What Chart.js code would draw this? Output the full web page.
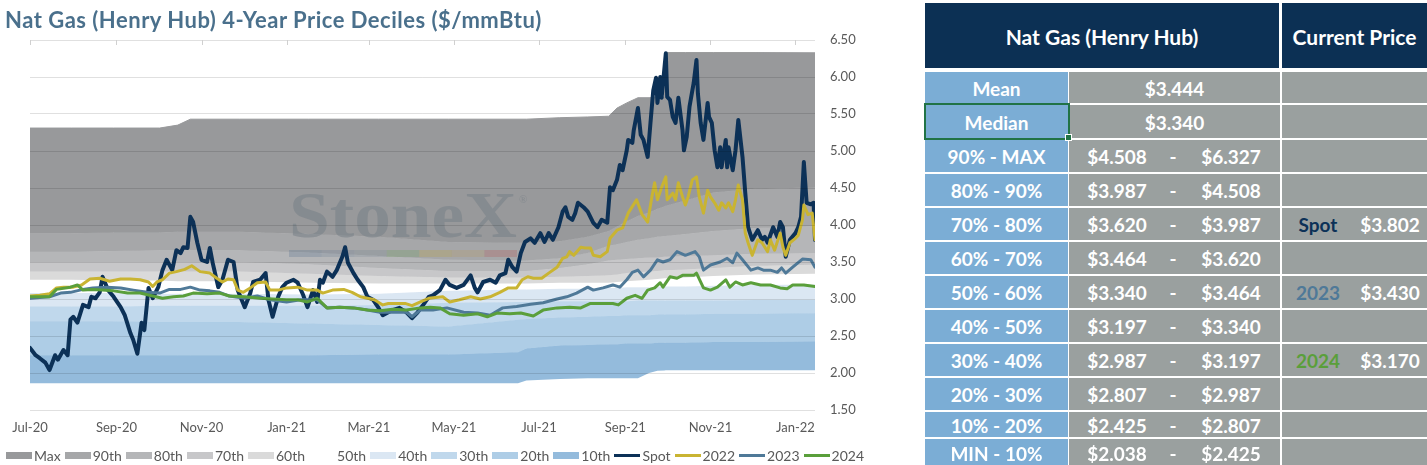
<!DOCTYPE html>
<html>
<head>
<meta charset="utf-8">
<title>Nat Gas (Henry Hub) 4-Year Price Deciles</title>
<script src="https://cdn.jsdelivr.net/npm/chart.js@4.4.1/dist/chart.umd.min.js"></script>
<style>
  html, body { margin: 0; padding: 0; background: #fff; }
  body { position: relative; width: 1427px; height: 465px; overflow: hidden; font-family: Lato, "Open Sans", sans-serif; }
  #chartWrap { position: absolute; left: 0; top: 0; width: 920px; height: 465px; }
  #chartTitle { position: absolute; left: 5px; top: 6px; font-weight: bold; font-size: 22px; letter-spacing: 0.5px; color: #4a708c; white-space: nowrap; }
  #legend { position: absolute; left: 6px; top: 446px; height: 18px; display: flex; align-items: center; font-size: 14px; color: #595959; white-space: nowrap; }
  .item { display: flex; align-items: center; margin-right: 4px; }
  .swatch { width: 26px; margin-right: 2px; }
  .box { position: absolute; box-sizing: border-box; }
  .txt { position: absolute; transform: translate(-50%, -50%); white-space: nowrap; font-weight: bold; color: #fff; line-height: 1; }
</style>
</head>
<body>
<div id="chartWrap"><canvas id="decileChart"></canvas></div>
<div id="chartTitle">Nat Gas (Henry Hub) 4-Year Price Deciles ($/mmBtu)</div>
<div id="legend"></div>
<div id="table"></div>
<script>
// x axis: days since 1 Jul 2020
const xTickDays = [0, 62, 123, 184, 243, 304, 365, 427, 488, 549];
const xTickLabels = ['Jul-20', 'Sep-20', 'Nov-20', 'Jan-21', 'Mar-21', 'May-21', 'Jul-21', 'Sep-21', 'Nov-21', 'Jan-22'];
const lastDay = 563;

// rolling 4-year decile boundaries ($/mmBtu)
const bandDays = [0, 30, 60, 93, 106, 115, 150, 200, 250, 300, 350, 356, 380, 400, 415, 421, 428, 436, 444, 450, 455, 456, 470, 490, 520, 563];
const bandMax = [5.31, 5.31, 5.31, 5.31, 5.35, 5.43, 5.43, 5.43, 5.43, 5.43, 5.43, 5.43, 5.45, 5.46, 5.47, 5.58, 5.65, 5.72, 5.72, 5.73, 5.73, 6.33, 6.33, 6.33, 6.33, 6.327];
const band90 = [3.89, 3.89, 3.90, 3.90, 3.91, 3.91, 3.91, 3.88, 3.84, 3.77, 3.76, 3.76, 3.78, 3.84, 3.92, 3.98, 4.05, 4.12, 4.17, 4.22, 4.25, 4.26, 4.33, 4.44, 4.49, 4.508];
const band80 = [3.64, 3.64, 3.65, 3.66, 3.66, 3.66, 3.66, 3.63, 3.58, 3.53, 3.52, 3.52, 3.55, 3.62, 3.72, 3.74, 3.77, 3.80, 3.82, 3.84, 3.85, 3.85, 3.88, 3.92, 3.96, 3.987];
const band70 = [3.50, 3.50, 3.50, 3.50, 3.50, 3.50, 3.50, 3.47, 3.42, 3.38, 3.38, 3.38, 3.42, 3.47, 3.52, 3.53, 3.54, 3.55, 3.56, 3.56, 3.57, 3.57, 3.58, 3.59, 3.61, 3.620];
const band60 = [3.37, 3.37, 3.37, 3.37, 3.37, 3.37, 3.37, 3.34, 3.31, 3.29, 3.29, 3.29, 3.30, 3.31, 3.32, 3.33, 3.35, 3.36, 3.37, 3.38, 3.39, 3.39, 3.40, 3.42, 3.45, 3.464];
const band50 = [3.26, 3.26, 3.25, 3.25, 3.24, 3.24, 3.24, 3.22, 3.21, 3.21, 3.21, 3.21, 3.22, 3.22, 3.22, 3.23, 3.24, 3.25, 3.26, 3.27, 3.28, 3.28, 3.29, 3.31, 3.33, 3.340];
const band40 = [3.08, 3.08, 3.08, 3.07, 3.07, 3.07, 3.07, 3.06, 3.07, 3.11, 3.13, 3.13, 3.14, 3.14, 3.15, 3.15, 3.16, 3.16, 3.16, 3.17, 3.17, 3.17, 3.17, 3.18, 3.19, 3.197];
const band30 = [2.90, 2.90, 2.90, 2.91, 2.91, 2.91, 2.91, 2.91, 2.92, 2.95, 2.96, 2.96, 2.97, 2.97, 2.97, 2.97, 2.97, 2.98, 2.98, 2.98, 2.98, 2.98, 2.98, 2.98, 2.985, 2.987];
const band20 = [2.70, 2.70, 2.70, 2.69, 2.69, 2.69, 2.69, 2.67, 2.65, 2.63, 2.72, 2.73, 2.75, 2.76, 2.77, 2.77, 2.78, 2.78, 2.78, 2.79, 2.79, 2.79, 2.79, 2.80, 2.80, 2.807];
const band10 = [2.24, 2.24, 2.24, 2.24, 2.24, 2.24, 2.24, 2.24, 2.25, 2.25, 2.28, 2.33, 2.37, 2.38, 2.39, 2.39, 2.40, 2.40, 2.40, 2.41, 2.41, 2.41, 2.41, 2.42, 2.42, 2.425];
const bandMin = [1.86, 1.86, 1.86, 1.86, 1.86, 1.86, 1.86, 1.86, 1.86, 1.86, 1.86, 1.90, 1.92, 1.93, 1.93, 1.93, 1.93, 1.93, 2.00, 2.03, 2.035, 2.038, 2.038, 2.038, 2.038, 2.038];
const bandNames = ['Max', '90th', '80th', '70th', '60th', '50th', '40th', '30th', '20th', '10th'];
const bandColors = ['#98999b', '#a6a7a9', '#b5b6b8', '#c7c7c9', '#dadada', '#ffffff', '#dbe7f3', '#c0d8ec', '#aecde6', '#94bbdc'];

// spot and strip prices
const spotDays = [0, 4, 7, 11, 14, 18, 20, 24, 27, 29, 31, 34, 38, 42, 44, 47, 50, 52, 56, 60, 65, 68, 72, 74, 77, 80, 82, 85, 88, 92, 95, 98, 102, 105, 108, 110, 113, 115, 117, 120, 123, 127, 129, 131, 135, 138, 142, 146, 149, 154, 158, 160, 165, 169, 171, 174, 178, 181, 184, 189, 192, 196, 199, 203, 206, 208, 210, 213, 217, 220, 224, 226, 228, 232, 235, 239, 242, 246, 250, 253, 257, 260, 265, 270, 274, 278, 282, 286, 289, 294, 298, 301, 306, 311, 316, 319, 321, 325, 330, 334, 337, 341, 343, 346, 349, 352, 355, 359, 362, 366, 369, 372, 375, 379, 382, 384, 386, 389, 391, 393, 397, 400, 404, 407, 410, 414, 416, 418, 421, 423, 425, 428, 429, 432, 433, 436, 438, 440, 443, 445, 447, 449, 450, 452, 453, 456, 457, 459, 461, 463, 465, 468, 469, 471, 473, 476, 478, 479, 481, 483, 486, 487, 489, 491, 493, 495, 496, 499, 500, 501, 504, 506, 508, 511, 513, 515, 518, 522, 525, 527, 529, 533, 536, 538, 540, 542, 545, 549, 551, 553, 555, 557, 560, 562, 563];
const spotPrices = [2.34, 2.24, 2.20, 2.14, 2.04, 2.24, 2.18, 2.31, 2.24, 2.72, 2.76, 2.68, 2.92, 2.89, 3.03, 3.01, 3.09, 3.30, 3.12, 3.03, 2.89, 2.78, 2.54, 2.45, 2.26, 2.68, 2.58, 3.15, 3.01, 3.16, 3.39, 3.53, 3.39, 3.66, 3.62, 3.70, 3.69, 4.11, 4.04, 3.76, 3.53, 3.50, 3.69, 3.49, 3.16, 3.26, 3.53, 3.50, 3.12, 2.89, 3.08, 3.23, 3.26, 3.35, 2.99, 2.76, 3.03, 3.16, 3.22, 3.26, 3.22, 3.05, 2.89, 3.12, 2.96, 3.26, 3.22, 3.37, 3.30, 3.39, 3.57, 3.70, 3.49, 3.35, 3.26, 3.16, 3.03, 2.99, 2.88, 2.78, 2.82, 2.85, 2.88, 2.82, 2.74, 2.82, 2.92, 3.03, 3.05, 3.12, 3.26, 3.19, 3.15, 3.19, 3.32, 3.15, 3.09, 3.23, 3.26, 3.22, 3.32, 3.35, 3.53, 3.43, 3.37, 3.62, 3.77, 3.82, 3.76, 3.89, 3.77, 3.89, 3.80, 3.97, 4.18, 4.24, 4.11, 4.07, 4.16, 4.30, 4.24, 4.18, 4.03, 3.97, 4.07, 4.03, 4.51, 4.47, 4.61, 4.81, 4.74, 5.01, 5.15, 5.11, 5.28, 5.58, 5.22, 5.15, 4.92, 5.38, 5.82, 5.99, 5.65, 6.00, 5.72, 6.32, 5.73, 5.69, 5.46, 5.38, 5.72, 5.28, 5.01, 5.19, 5.60, 5.92, 6.23, 5.78, 5.38, 5.15, 5.65, 5.46, 5.38, 5.01, 4.78, 5.05, 4.78, 5.15, 4.78, 5.05, 4.74, 5.01, 5.42, 4.92, 4.43, 3.97, 3.80, 3.93, 3.80, 3.84, 3.76, 3.97, 3.84, 4.04, 3.97, 3.57, 3.80, 3.89, 3.97, 4.11, 4.85, 4.30, 4.28, 4.30, 3.80];

const strip2022Days = [0, 7, 14, 19, 24, 31, 37, 43, 50, 57, 65, 72, 79, 85, 88, 91, 95, 100, 105, 111, 116, 122, 129, 134, 138, 142, 146, 149, 153, 158, 163, 169, 172, 178, 184, 192, 199, 206, 210, 217, 225, 231, 237, 242, 247, 253, 257, 263, 269, 274, 280, 286, 296, 301, 308, 316, 323, 330, 337, 343, 349, 353, 357, 361, 367, 372, 378, 382, 385, 387, 390, 395, 398, 402, 404, 409, 414, 416, 421, 425, 429, 435, 439, 443, 446, 448, 450, 453, 456, 457, 461, 463, 465, 468, 470, 472, 475, 478, 480, 483, 486, 488, 491, 494, 496, 499, 501, 504, 506, 508, 511, 513, 515, 518, 522, 525, 529, 531, 534, 538, 540, 542, 545, 549, 551, 554, 555, 558, 561, 563];
const strip2022Prices = [3.04, 3.05, 3.07, 3.15, 3.16, 3.16, 3.19, 3.27, 3.28, 3.24, 3.27, 3.27, 3.26, 3.23, 3.17, 3.23, 3.26, 3.35, 3.37, 3.40, 3.45, 3.37, 3.35, 3.28, 3.23, 3.27, 3.26, 3.12, 3.09, 3.15, 3.22, 3.23, 3.12, 3.12, 3.15, 3.16, 3.12, 3.12, 3.08, 3.12, 3.13, 3.09, 3.03, 3.01, 2.99, 2.92, 2.94, 2.94, 2.94, 2.91, 2.96, 3.01, 3.03, 2.96, 2.99, 3.03, 3.00, 3.03, 3.09, 3.15, 3.15, 3.26, 3.30, 3.28, 3.28, 3.35, 3.43, 3.55, 3.57, 3.64, 3.59, 3.70, 3.69, 3.69, 3.59, 3.57, 3.64, 3.82, 3.93, 3.96, 4.16, 4.34, 4.14, 4.04, 4.38, 4.57, 4.34, 4.51, 4.65, 4.34, 4.43, 4.34, 4.57, 4.38, 4.27, 4.38, 4.61, 4.65, 4.38, 4.16, 4.47, 4.38, 4.30, 4.20, 4.30, 4.23, 4.30, 4.18, 4.34, 4.54, 4.34, 3.89, 3.76, 3.59, 3.80, 3.76, 3.64, 3.80, 3.66, 3.89, 3.70, 3.59, 3.76, 3.82, 3.86, 4.07, 4.27, 4.14, 4.16, 3.80];

const strip2023Days = [0, 14, 22, 29, 38, 45, 55, 65, 74, 84, 93, 100, 108, 115, 122, 129, 136, 143, 154, 163, 172, 184, 194, 206, 213, 222, 232, 242, 251, 260, 270, 274, 280, 289, 299, 311, 321, 330, 339, 349, 359, 368, 378, 385, 392, 400, 404, 411, 418, 423, 428, 432, 436, 440, 445, 450, 454, 459, 464, 470, 477, 480, 483, 488, 495, 500, 504, 507, 511, 517, 522, 526, 531, 536, 539, 542, 547, 554, 560, 563];
const strip2023Prices = [3.01, 3.03, 3.08, 3.09, 3.13, 3.15, 3.16, 3.15, 3.12, 3.09, 3.08, 3.13, 3.13, 3.16, 3.12, 3.11, 3.09, 3.04, 3.01, 3.04, 2.99, 2.96, 2.99, 2.99, 2.88, 2.89, 2.88, 2.85, 2.82, 2.82, 2.82, 2.76, 2.85, 2.85, 2.88, 2.82, 2.81, 2.78, 2.88, 2.90, 2.93, 2.95, 3.00, 3.03, 3.08, 3.16, 3.12, 3.15, 3.19, 3.16, 3.26, 3.36, 3.39, 3.30, 3.39, 3.53, 3.50, 3.53, 3.64, 3.59, 3.64, 3.57, 3.39, 3.46, 3.50, 3.55, 3.49, 3.62, 3.53, 3.39, 3.42, 3.39, 3.39, 3.36, 3.42, 3.35, 3.43, 3.54, 3.53, 3.43];

const strip2024Days = [0, 14, 19, 29, 34, 38, 45, 52, 60, 70, 79, 88, 95, 103, 110, 117, 127, 136, 143, 154, 165, 174, 184, 192, 199, 206, 213, 222, 232, 242, 251, 260, 270, 280, 287, 294, 301, 311, 321, 328, 335, 344, 352, 361, 368, 378, 387, 395, 402, 411, 418, 422, 428, 434, 439, 443, 448, 452, 454, 459, 464, 468, 476, 478, 483, 488, 493, 499, 502, 506, 511, 517, 524, 531, 538, 543, 547, 555, 563];
const strip2024Prices = [3.03, 3.03, 3.13, 3.16, 3.19, 3.12, 3.13, 3.12, 3.11, 3.08, 3.08, 3.04, 3.01, 3.03, 3.04, 3.08, 3.07, 3.08, 3.04, 3.03, 3.01, 3.00, 2.99, 2.99, 2.96, 3.01, 2.88, 2.89, 2.88, 2.85, 2.84, 2.86, 2.85, 2.88, 2.89, 2.88, 2.80, 2.78, 2.80, 2.76, 2.81, 2.80, 2.81, 2.77, 2.85, 2.88, 2.89, 2.88, 2.94, 2.94, 2.94, 2.92, 3.01, 3.05, 3.01, 3.12, 3.15, 3.22, 3.16, 3.30, 3.28, 3.32, 3.32, 3.35, 3.15, 3.12, 3.16, 3.26, 3.16, 3.23, 3.19, 3.22, 3.19, 3.19, 3.15, 3.14, 3.19, 3.19, 3.17];

const lineNames = ['Spot', '2022', '2023', '2024'];
const lineColors = ['#0c3157', '#c9b432', '#4f7998', '#5a9f3b'];

// summary table
const statNames = ['Mean', 'Median'];
const statValues = [3.444, 3.340];
const decileNames = ['90% - MAX', '80% - 90%', '70% - 80%', '60% - 70%', '50% - 60%', '40% - 50%', '30% - 40%', '20% - 30%', '10% - 20%', 'MIN - 10%'];
const decileLow = [4.508, 3.987, 3.620, 3.464, 3.340, 3.197, 2.987, 2.807, 2.425, 2.038];
const decileHigh = [6.327, 4.508, 3.987, 3.620, 3.464, 3.340, 3.197, 2.987, 2.807, 2.425];
const currentNames = ['Spot', '2023', '2024'];
const currentPrices = [3.802, 3.430, 3.170];
const currentColors = ['#0c3157', '#4f7998', '#5a9f3b'];

const tickColor = '#595959';
const tickFont = { family: 'Lato', size: 13 };

function toPoints(days, values) {
    return days.map((d, i) => ({ x: d, y: values[i] }));
}

function buildDatasets() {
    const bands = [bandMax, band90, band80, band70, band60, band50, band40, band30, band20, band10];
    const sets = bands.map((values, i) => ({
        label: bandNames[i],
        data: toPoints(bandDays, values),
        backgroundColor: bandColors[i],
        borderColor: bandColors[i],
        borderWidth: 1,
        pointRadius: 0,
        fill: i + 1,   // fill down to the next boundary
        order: 10
    }));
    sets.push({
        label: 'Min',
        data: toPoints(bandDays, bandMin),
        borderColor: 'rgba(0,0,0,0)',
        borderWidth: 0,
        pointRadius: 0,
        fill: false,
        order: 10
    });

    const lines = [
        [spotDays, spotPrices],
        [strip2022Days, strip2022Prices],
        [strip2023Days, strip2023Prices],
        [strip2024Days, strip2024Prices]
    ];
    lines.forEach(([days, values], i) => {
        sets.push({
            label: lineNames[i],
            data: toPoints(days, values),
            borderColor: lineColors[i],
            borderWidth: i === 0 ? 4 : 3,
            borderJoinStyle: 'round',
            borderCapStyle: 'round',
            pointRadius: 0,
            fill: false,
            order: 4 - i   // later strips drawn on top
        });
    });
    return sets;
}

// StoneX watermark over the bands, under the lines; small top tick marks
const stonexMark = {
    id: 'stonexMark',
    afterDatasetDraw(chart, args) {
        if (args.index !== 0) return;
        const { ctx, chartArea } = chart;
        const left = chartArea.left + 259;
        const base = chartArea.top + 197;
        const targetWidth = 228;
        ctx.save();
        ctx.font = 'bold 66px "Liberation Serif", serif';
        const w = ctx.measureText('StoneX').width;
        ctx.fillStyle = 'rgba(118, 128, 134, 0.55)';
        ctx.save();
        ctx.translate(left, base);
        ctx.scale(targetWidth / w, 1);
        ctx.fillText('StoneX', 0, 0);
        ctx.restore();
        ctx.font = '11px "Liberation Serif", serif';
        ctx.fillText('\u00ae', left + targetWidth + 2, base - 34);
        const stripe = ['rgba(70,100,135,0.24)', 'rgba(70,100,135,0.18)', 'rgba(90,110,130,0.16)',
            'rgba(90,150,70,0.22)', 'rgba(190,160,50,0.24)', 'rgba(185,150,80,0.22)', 'rgba(180,70,70,0.24)'];
        const segW = targetWidth / stripe.length;
        stripe.forEach((c, i) => {
            ctx.fillStyle = c;
            ctx.fillRect(left + i * segW, base + 13, segW, 7);
        });
        ctx.restore();
    },
    afterDraw(chart) {
        const { ctx, chartArea, scales } = chart;
        ctx.save();
        ctx.strokeStyle = '#d0d0d0';
        ctx.lineWidth = 1;
        xTickDays.forEach(d => {
            const x = Math.round(scales.x.getPixelForValue(d)) + 0.5;
            ctx.beginPath();
            ctx.moveTo(x, chartArea.top);
            ctx.lineTo(x, chartArea.top + 5);
            ctx.stroke();
        });
        ctx.restore();
    }
};

function initializeDecileChart() {
    const ctx = document.getElementById('decileChart').getContext('2d');
    window.decileChart = new Chart(ctx, {
        type: 'line',
        data: { datasets: buildDatasets() },
        options: {
            responsive: true,
            maintainAspectRatio: false,
            animation: false,
            events: [],
            layout: { padding: { top: 40, left: 0, right: 0, bottom: 0 } },
            elements: { line: { tension: 0 } },
            plugins: {
                legend: { display: false },
                tooltip: { enabled: false }
            },
            scales: {
                x: {
                    type: 'linear',
                    min: 0,
                    max: lastDay,
                    afterBuildTicks: scale => {
                        scale.ticks = xTickDays.map(v => ({ value: v }));
                    },
                    afterFit: scale => {
                        scale.height = 55;
                        scale.paddingLeft = 30;
                    },
                    ticks: {
                        autoSkip: false,
                        maxRotation: 0,
                        padding: 10,
                        color: tickColor,
                        font: tickFont,
                        callback: value => xTickLabels[xTickDays.indexOf(value)]
                    },
                    grid: { display: false, drawTicks: false },
                    border: { display: false }
                },
                y: {
                    position: 'right',
                    min: 1.5,
                    max: 6.5,
                    afterFit: scale => {
                        scale.width = 105;
                    },
                    ticks: {
                        stepSize: 0.5,
                        padding: 15,
                        color: tickColor,
                        font: tickFont,
                        callback: value => value.toFixed(2)
                    },
                    grid: { color: 'rgba(0,0,0,0.12)', z: 1, drawTicks: false },
                    border: { display: false }
                }
            }
        },
        plugins: [stonexMark]
    });
}

function buildLegend() {
    const legend = document.getElementById('legend');
    const entries = bandNames.map((n, i) => ({ name: n, color: bandColors[i], h: 7 }))
        .concat(lineNames.map((n, i) => ({ name: n, color: lineColors[i], h: 3 })));
    entries.forEach(e => {
        const item = document.createElement('div');
        item.className = 'item';
        item.innerHTML = `<span class="swatch" style="height:${e.h}px;background:${e.color}"></span><span>${e.name}</span>`;
        legend.appendChild(item);
    });
}

function buildTable() {
    const root = document.getElementById('table');
    const navy = '#0c3054';
    const blue = '#7badd5';
    const gray = '#9aa09f';
    const rowEdges = [71, 104, 139, 173, 207, 241, 275, 309, 343, 377, 411, 438, 467];

    function box(x, y, w, h, bg, extra) {
        const d = document.createElement('div');
        d.className = 'box';
        d.style.cssText = `left:${x}px;top:${y}px;width:${w}px;height:${h}px;background:${bg};${extra || ''}`;
        root.appendChild(d);
    }
    function text(str, cx, cy, color, size) {
        const d = document.createElement('div');
        d.className = 'txt';
        d.textContent = str;
        d.style.cssText = `left:${cx}px;top:${cy}px;color:${color || '#fff'};font-size:${size || 19}px;`;
        root.appendChild(d);
    }

    box(925, 3, 354, 65, navy);
    text('Nat Gas (Henry Hub)', 1102, 36, '#fff', 21);
    box(1282, 3, 145, 65, navy);
    text('Current Price', 1354.5, 36, '#fff', 21);

    statNames.concat(decileNames).forEach((name, r) => {
        const top = rowEdges[r] + 1;
        const h = rowEdges[r + 1] - rowEdges[r] - 2;
        const cy = top + h / 2;
        box(925, top, 143, h, blue);
        box(1069, top, 211, h, gray);
        box(1282, top, 145, h, gray);
        text(name, 996.5, cy);
        if (r < statNames.length) {
            text('$' + statValues[r].toFixed(3), 1174.5, cy);
            return;
        }
        const k = r - statNames.length;
        text('$' + decileLow[k].toFixed(3), 1117, cy);
        text('-', 1173, cy);
        text('$' + decileHigh[k].toFixed(3), 1231, cy);
        currentPrices.forEach((p, j) => {
            if (p >= decileLow[k] && p < decileHigh[k]) {
                text(currentNames[j], 1318, cy, currentColors[j]);
                text('$' + p.toFixed(3), 1390, cy);
            }
        });
    });

    // spreadsheet selection frame around "Median"
    box(924, 103, 146, 37, 'transparent', 'border:2px solid #217346;');
    box(1066, 135, 5, 5, '#217346', 'outline:1px solid #fff;');
}

initializeDecileChart();
buildLegend();
buildTable();
</script>
</body>
</html>
